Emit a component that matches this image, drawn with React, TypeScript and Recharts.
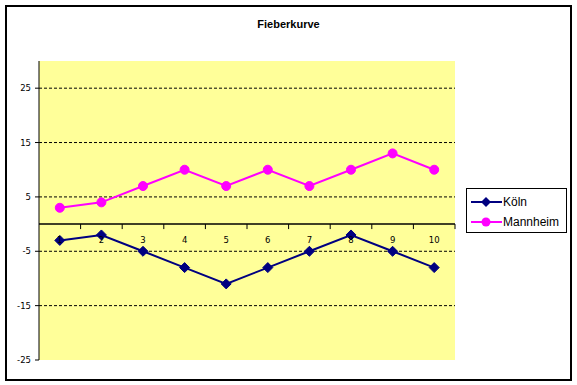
import React from 'react';
import { LineChart, Line, XAxis, YAxis, CartesianGrid, ReferenceLine, Legend } from 'recharts';

const days = ['1', '2', '3', '4', '5', '6', '7', '8', '9', '10'];
const koeln = [-3, -2, -5, -8, -11, -8, -5, -2, -5, -8];
const mannheim = [3, 4, 7, 10, 7, 10, 7, 10, 13, 10];
const yTicks = [-25, -15, -5, 5, 15, 25];
const gridValues = [-15, -5, 5, 15, 25];
const Y_MIN = -25;
const Y_MAX = 30;
const TITLE = 'Fieberkurve';
const NAME_K = 'Köln';
const NAME_M = 'Mannheim';

const data = days.map((d, i) => ({ day: d, koeln: koeln[i], mannheim: mannheim[i] }));

const W = 577;
const H = 385;
const PLOT_LEFT = 39;
const PLOT_TOP = 61;
const PLOT_RIGHT = 455;
const PLOT_BOTTOM = 360;
const XAXIS_H = 1;
const PLOT_W = PLOT_RIGHT - PLOT_LEFT;
const PLOT_H = PLOT_BOTTOM - PLOT_TOP;
const BAND = PLOT_W / days.length;
const ZERO_Y = PLOT_TOP + (PLOT_H * Y_MAX) / (Y_MAX - Y_MIN);

const NAVY = '#000080';
const MAGENTA = '#FF00FF';
const YELLOW = '#FFFF99';
const FONT = '"DejaVu Sans", sans-serif';

const Diamond = (props: any) => {
  const { cx, cy, index } = props;
  if (cx == null || cy == null) return <g key={`d-${index}`} />;
  const r = 5;
  return (
    <path
      key={`d-${index}`}
      d={`M${cx},${cy - r}L${cx + r},${cy}L${cx},${cy + r}L${cx - r},${cy}Z`}
      fill={NAVY}
      stroke={NAVY}
      strokeWidth={1}
    />
  );
};

const Circle = (props: any) => {
  const { cx, cy, index } = props;
  if (cx == null || cy == null) return <g key={`c-${index}`} />;
  return <circle key={`c-${index}`} cx={cx} cy={cy} r={4.5} fill={MAGENTA} stroke={MAGENTA} />;
};

const renderXTick = (props: any) => {
  const { x, payload, index } = props;
  return (
    <g key={`xt-${index}`}>
      <text x={x} y={ZERO_Y + 19} textAnchor="middle" fontSize={8.5} fontFamily={FONT} fill="#000">
        {payload.value}
      </text>
      <line x1={x + BAND / 2} y1={ZERO_Y} x2={x + BAND / 2} y2={ZERO_Y + 5} stroke="#000" strokeWidth={1} />
    </g>
  );
};

const LegendContent = (props: any) => {
  const payload = props.payload || [];
  return (
    <div
      style={{
        boxSizing: 'border-box',
        width: 101,
        height: 45,
        border: '1px solid #000',
        background: '#fff',
        paddingTop: 3,
        paddingLeft: 3,
      }}
    >
      {payload.map((p: any, i: number) => {
        const isK = p.dataKey === 'koeln';
        const color = p.color;
        return (
          <div key={i} style={{ display: 'flex', alignItems: 'center', height: 20 }}>
            <svg width={33} height={14} style={{ display: 'block' }}>
              <line x1={1} y1={7} x2={32} y2={7} stroke={color} strokeWidth={2} />
              {isK ? (
                <path d="M16,2L21,7L16,12L11,7Z" fill={color} />
              ) : (
                <circle cx={16} cy={7} r={4.5} fill={color} />
              )}
            </svg>
            <span style={{ fontFamily: '"Liberation Sans", Arial, sans-serif', fontSize: 12, color: '#000', lineHeight: '14px' }}>
              {p.value}
            </span>
          </div>
        );
      })}
    </div>
  );
};

export default function App() {
  return (
    <div style={{ position: 'absolute', left: 0, top: 0, width: W, height: H, background: '#fff' }}>
      <div
        style={{
          position: 'absolute',
          left: 5,
          top: 5,
          width: 567,
          height: 376,
          border: '2px solid #000',
          boxSizing: 'border-box',
        }}
      />
      <div
        style={{
          position: 'absolute',
          left: 0,
          top: 17,
          width: W,
          textAlign: 'center',
          fontFamily: '"Liberation Sans", Arial, sans-serif',
          fontWeight: 'bold',
          fontSize: 11,
          lineHeight: '14px',
          color: '#000',
        }}
      >
        {TITLE}
      </div>
      <div style={{ position: 'absolute', left: 0, top: 0 }}>
        <LineChart
          width={W}
          height={H}
          data={data}
          margin={{ top: PLOT_TOP, right: W - PLOT_RIGHT, bottom: H - PLOT_BOTTOM - XAXIS_H, left: 0 }}
        >
          <CartesianGrid
            vertical={false}
            horizontalValues={gridValues}
            stroke="#000"
            strokeDasharray="3 2"
            fill={YELLOW}
            fillOpacity={1}
          />
          <XAxis
            dataKey="day"
            height={XAXIS_H}
            axisLine={false}
            tickLine={false}
            interval={0}
            padding={{ left: BAND / 2, right: BAND / 2 }}
            tick={renderXTick}
          />
          <YAxis
            width={PLOT_LEFT}
            domain={[Y_MIN, Y_MAX]}
            ticks={yTicks}
            allowDataOverflow
            axisLine={{ stroke: '#000', strokeWidth: 1 }}
            tickLine={{ stroke: '#000', strokeWidth: 1 }}
            tickSize={4}
            tickMargin={4}
            tick={{ fontSize: 8.5, fontFamily: FONT, fill: '#000' }}
          />
          <ReferenceLine y={0} stroke="#000" strokeWidth={1.5} ifOverflow="visible" />
          <Line
            type="linear"
            dataKey="koeln"
            name={NAME_K}
            stroke={NAVY}
            strokeWidth={2}
            dot={Diamond}
            activeDot={false}
            isAnimationActive={false}
          />
          <Line
            type="linear"
            dataKey="mannheim"
            name={NAME_M}
            stroke={MAGENTA}
            strokeWidth={2}
            dot={Circle}
            activeDot={false}
            isAnimationActive={false}
          />
          <Legend
            layout="vertical"
            align="center"
            verticalAlign="middle"
            wrapperStyle={{ left: 466, top: 188, width: 101, height: 45 }}
            content={<LegendContent />}
          />
        </LineChart>
      </div>
    </div>
  );
}
